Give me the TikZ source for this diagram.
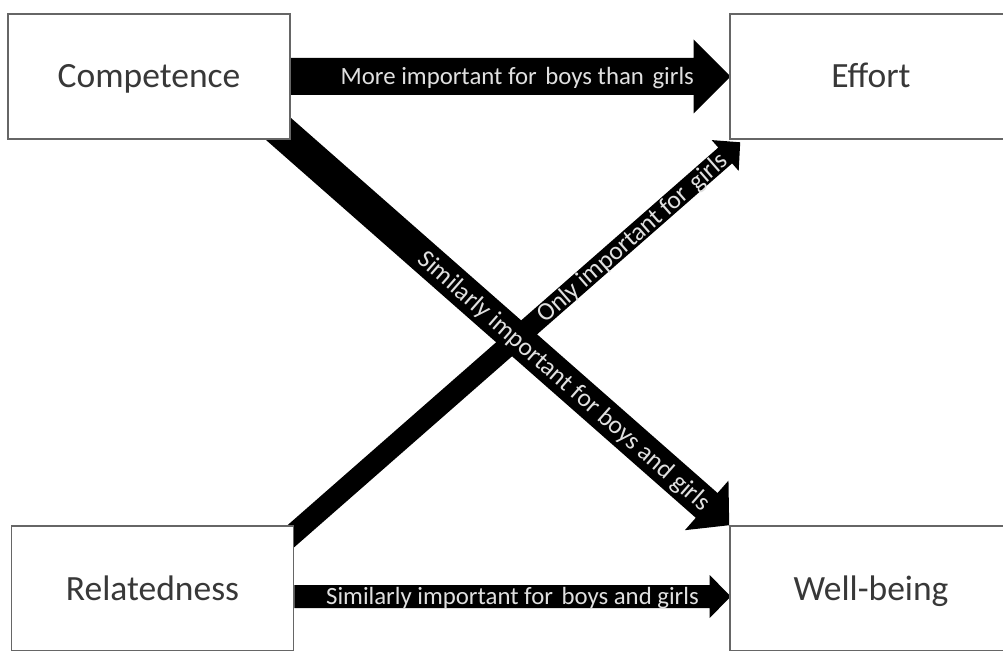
\documentclass[tikz,border=0pt]{standalone}
\usepackage{fontspec}
\setmainfont{Carlito}
\usetikzlibrary{calc}
\pgfdeclarelayer{paper}
\pgfdeclarelayer{bg}
\pgfsetlayers{paper,bg,main}
% start, end, half body width, half head width, head length
\newcommand\blockarrow[5]{%
  \coordinate (hb) at ($(#2)!#5!(#1)$);
  \fill[arrowfill] ($(#1)!#3!90:(#2)$) -- ($(hb)!#3!90:(#2)$) -- ($(hb)!#4!90:(#2)$) -- (#2)
    -- ($(hb)!#4!-90:(#2)$) -- ($(hb)!#3!-90:(#2)$) -- ($(#1)!#3!-90:(#2)$) -- cycle;
}
\newcommand\wsp{\hspace{0.12em}}
\begin{document}
\begin{tikzpicture}[x=1pt,y=-1pt,
  box/.style={draw=black!60, line width=1.6pt, fill=white, minimum width=282pt,
    minimum height=125pt, inner sep=0pt, text=black!78,
    font=\fontsize{35.5}{40}\selectfont, text height=23pt, text depth=0pt},
  arrowfill/.style={fill=black},
  arrtext/.style={text=white!88!black, inner sep=0pt,
    font=\fontsize{24.8}{28}\selectfont, text height=16pt, text depth=0pt},
  diagtext/.style={text=white!88!black, inner sep=0pt, sloped,
    font=\fontsize{25.5}{28}\selectfont, text height=16.4pt, text depth=0pt}]
\useasboundingbox (0,0) rectangle (1003,650);
\begin{pgfonlayer}{paper}
  \fill[white] (0,0) rectangle (1003,650);
\end{pgfonlayer}

\node[box] (comp) at (149,76.5) {Competence};
\node[box] (eff)  at (871,76.5) {Effort};
\node[box] (rel)  at (152.5,588.5) {Relatedness};
\node[box] (well) at (871,588.5) {Well-being};

\coordinate (t2) at ($(eff.west)+(1.5,0)$);
\coordinate (b1) at ($(rel.east)+(0,8)$);
\coordinate (b2) at ($(well.west)+(1.5,8)$);
\coordinate (d0) at ($(comp.south east)!-30pt!(well.north west)$);
\coordinate (r1) at ($(rel.north east)+(0,8)$);
\coordinate (r2) at ($(eff.south west)+(11,2.5)$);
\coordinate (r0) at ($(r1)!-25pt!(r2)$);

\begin{pgfonlayer}{bg}
  \blockarrow{comp.east}{t2}{18.5pt}{37pt}{37pt}
  \blockarrow{b1}{b2}{11.5pt}{21.5pt}{21pt}
  \blockarrow{d0}{well.north west}{16.5pt}{33pt}{30pt}
  \blockarrow{r0}{r2}{10.5pt}{20.5pt}{20pt}
\end{pgfonlayer}

\path (comp.east) -- (t2) node[arrtext, pos=0.515] {More important for \wsp boys than \wsp girls};
\path (b1) -- (b2) node[arrtext, pos=0.5] {Similarly important for \wsp boys and girls};
\path (comp.south east) -- (well.north west) node[diagtext, pos=0.625] {Similarly important for boys and girls};
\path (r1) -- (r2) node[diagtext, pos=0.757] {Only important for \wsp girls};
\end{tikzpicture}
\end{document}
